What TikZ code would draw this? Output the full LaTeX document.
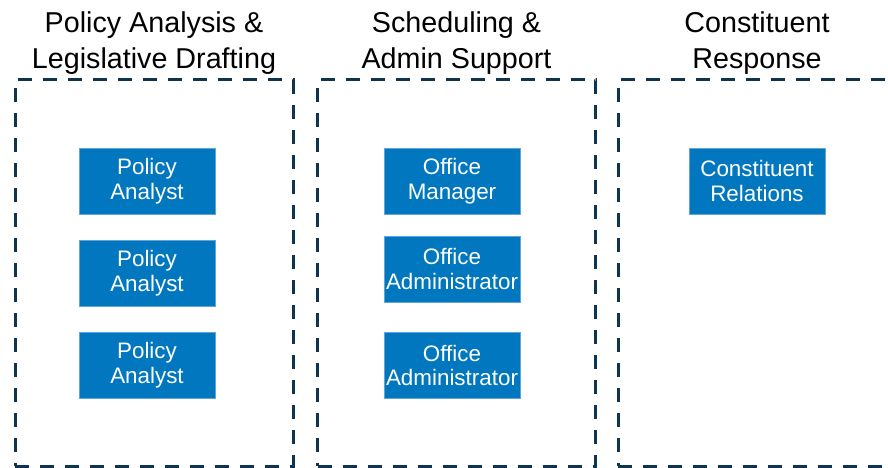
\documentclass[tikz,border=0pt]{standalone}
\usepackage{fontspec}
\setmainfont{Liberation Sans}
\definecolor{groupline}{RGB}{14,52,80}
\definecolor{rolefill}{RGB}{0,119,190}
\definecolor{roleedge}{RGB}{96,164,216}
\begin{document}
\begin{tikzpicture}[
    x=1pt, y=-1pt,
    group/.style={rectangle, draw=groupline, line width=3pt, dash pattern=on 14pt off 11pt, minimum width=278pt, minimum height=386pt, inner sep=0pt},
    heading/.style={align=center, font=\fontsize{28.7}{35.5}\selectfont, text=black, inner sep=0pt},
    role/.style={rectangle, draw=roleedge, line width=0.8pt, fill=rolefill, text=white, align=center, minimum width=136pt, minimum height=66pt, inner sep=0pt, font=\fontsize{22.4}{24.5}\selectfont}
]
    \useasboundingbox (0,0) rectangle (888,468);

    % groups
    \node[group] (policy) at (154,273) {};
    \node[group] (admin) at (456.5,273) {};
    \node[group] (constituent) at (757,273) {};

    \node[heading] (policyhead) at (154,43) {Policy Analysis \&\\Legislative Drafting};
    \node[heading] (adminhead) at (456.5,43) {Scheduling \&\\Admin Support};
    \node[heading] (constituenthead) at (757,43) {Constituent\\Response};

    % roles
    \node[role] (analyst1) at (147,181) {Policy\\Analyst};
    \node[role] (analyst2) at (147,273) {Policy\\Analyst};
    \node[role] (analyst3) at (147,365) {Policy\\Analyst};

    \node[role] (manager) at (452,181) {Office\\Manager};
    \node[role] (officeadmin1) at (452,269) {Office\\Administrator};
    \node[role] (officeadmin2) at (452,365.5) {Office\\Administrator};

    \node[role] (relations) at (757,181) {Constituent\\Relations};
\end{tikzpicture}
\end{document}
